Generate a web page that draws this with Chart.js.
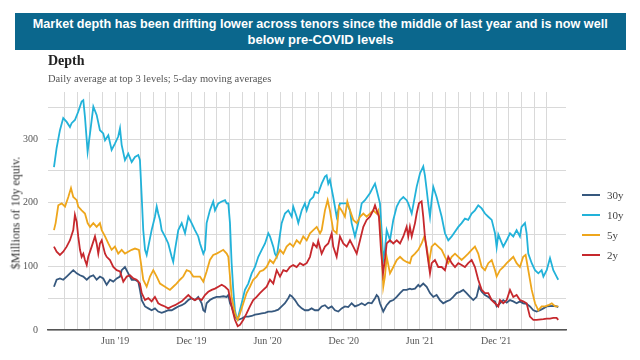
<!DOCTYPE html>
<html><head><meta charset="utf-8">
<script src="https://cdn.jsdelivr.net/npm/chart.js@4.4.0/dist/chart.umd.min.js"></script>
<style>
html,body{margin:0;padding:0;background:#fff;width:640px;height:360px;overflow:hidden}
#wrap{position:relative;width:640px;height:360px}
#banner{position:absolute;left:15px;top:13px;width:611px;height:37px;background:#0b678d;color:#fff;font:bold 13px "Liberation Sans",Arial,sans-serif;text-align:center}
#banner div{position:absolute;left:0;width:100%;white-space:nowrap;line-height:16px}
#t1{top:3px}#t2{top:19px}
#depth{position:absolute;left:48px;top:53px;font:bold 14px "Liberation Serif",serif;color:#222}
#sub{position:absolute;left:48px;top:73px;font:10.5px "Liberation Serif",serif;color:#555;white-space:nowrap}
#ytitle{position:absolute;left:16px;top:213px;transform:translate(-50%,-50%) rotate(-90deg);font:12px "Liberation Serif",serif;color:#333;white-space:nowrap}
#c{position:absolute;left:0;top:0}
.lg{position:absolute;left:582px;height:14px;line-height:14px;font:11px "Liberation Serif",serif;color:#444;white-space:nowrap}
.lg span{display:inline-block;width:18px;height:2px;vertical-align:middle;margin-right:7px;position:relative;top:-1px}
</style></head>
<body><div id="wrap">
<canvas id="c" width="640" height="360"></canvas>
<div id="banner"><div id="t1">Market depth has been drifting lower across tenors since the middle of last year and is now well</div><div id="t2">below pre-COVID levels</div></div>
<div id="depth">Depth</div>
<div id="sub">Daily average at top 3 levels; 5-day moving averages</div>
<div id="ytitle">$Millions of 10y equiv.</div>
<div id="legend"></div>
</div>
<script>
// x values: months since 1 Jan 2019 (fractional)
const seriesNames = ['30y','10y','5y','2y'];
const seriesColors = ['#36587e','#22b2d9','#eea61c','#c6282d'];
const tickMonths = [5,11,17,23,29,35];
const tickLabels = ["Jun '19","Dec '19","Jun '20","Dec '20","Jun '21","Dec '21"];

const months30 = [0.18,0.39,0.65,0.91,1.18,1.44,1.70,1.97,2.23,2.49,2.76,3.02,3.28,3.54,3.80,4.06,4.33,4.59,4.85,5.12,5.38,5.51,5.77,6.03,6.30,6.56,6.82,6.95,7.09,7.35,7.61,7.87,8.13,8.39,8.66,8.92,9.18,9.45,9.71,9.97,10.24,10.50,10.76,11.02,11.28,11.54,11.81,11.94,12.07,12.20,12.46,12.72,12.99,13.25,13.51,13.78,13.91,14.04,14.17,14.43,14.69,14.96,15.22,15.48,15.75,16.01,16.27,16.54,16.80,17.06,17.33,17.58,17.84,18.11,18.37,18.63,18.76,18.90,19.16,19.42,19.69,19.94,20.20,20.47,20.73,20.99,21.26,21.52,21.78,22.05,22.31,22.57,22.83,23.09,23.35,23.62,23.88,24.14,24.41,24.67,24.93,25.20,25.46,25.59,25.72,25.85,26.11,26.38,26.64,26.90,27.17,27.43,27.69,27.95,28.21,28.35,28.61,28.87,29.00,29.26,29.53,29.79,30.05,30.31,30.57,30.83,31.10,31.36,31.62,31.89,32.15,32.41,32.67,32.94,33.20,33.46,33.65,33.86,34.12,34.38,34.65,34.91,35.04,35.30,35.56,35.83,36.09,36.35,36.61,36.87,37.13,37.40,37.66,37.93,38.19,38.46,38.72,38.98,39.50,39.76,39.89];
const depth30y = [68,79,81,79,84,89,94,89,86,84,79,84,86,79,84,81,71,79,76,81,84,94,99,89,79,79,76,63,47,37,34,31,34,29,27,29,31,31,34,37,39,42,47,50,47,52,42,31,29,42,47,50,52,52,53,52,55,42,37,21,16,18,21,21,22,24,25,26,27,29,29,30,32,37,42,50,55,53,47,39,34,31,31,34,31,31,37,39,34,37,31,29,34,37,36,42,37,39,42,39,43,42,50,55,52,42,29,39,45,47,52,58,63,63,65,64,65,71,68,73,68,58,52,55,47,42,45,47,52,58,60,63,58,52,47,52,68,60,55,52,47,45,37,42,47,43,47,45,42,45,42,41,37,31,29,31,34,37,38,37,36];

const months10 = [0.18,0.39,0.65,0.91,1.18,1.44,1.57,1.83,2.09,2.36,2.49,2.62,2.83,3.02,3.28,3.54,3.80,4.06,4.20,4.46,4.72,4.98,5.24,5.38,5.51,5.77,6.03,6.30,6.56,6.82,6.95,7.09,7.21,7.35,7.48,7.61,7.87,8.13,8.27,8.39,8.53,8.66,8.92,9.18,9.45,9.57,9.71,9.97,10.24,10.50,10.76,11.02,11.28,11.54,11.68,11.94,12.07,12.20,12.46,12.72,12.86,13.12,13.39,13.65,13.78,13.91,14.04,14.17,14.30,14.43,14.57,14.69,14.96,15.22,15.48,15.75,16.01,16.27,16.54,16.80,17.06,17.19,17.45,17.58,17.72,17.84,18.11,18.37,18.63,18.90,19.02,19.29,19.42,19.69,19.94,20.08,20.34,20.60,20.73,20.99,21.26,21.52,21.65,21.78,21.91,22.17,22.44,22.70,22.96,23.23,23.49,23.62,23.88,24.14,24.41,24.67,25.06,25.32,25.46,25.59,25.85,25.98,26.11,26.24,26.38,26.64,26.90,27.17,27.43,27.69,27.95,28.08,28.35,28.74,29.00,29.26,29.39,29.53,29.65,29.79,29.92,30.05,30.31,30.44,30.71,30.97,31.23,31.50,32.02,32.28,32.54,32.80,33.07,33.33,33.59,33.86,34.12,34.38,34.65,34.91,35.04,35.17,35.56,35.83,36.09,36.35,36.61,36.87,37.00,37.27,37.40,37.53,37.80,38.06,38.32,38.58,38.72,38.98,39.24,39.50,39.76,39.89];
const depth10y = [256,286,314,333,327,319,325,330,343,359,361,335,280,309,351,338,314,309,298,306,283,293,304,317,291,267,277,264,272,275,267,209,157,126,118,131,157,178,194,183,173,157,147,136,115,107,126,157,168,152,178,168,157,147,136,120,126,168,188,202,188,199,202,204,199,199,168,105,63,31,18,21,42,63,73,89,99,115,126,136,152,147,131,120,115,131,168,183,188,178,194,178,168,188,199,188,204,209,217,215,230,241,243,230,236,209,178,199,199,199,188,168,147,168,199,204,215,225,230,220,199,157,110,126,157,141,173,194,204,209,204,199,183,225,246,257,243,220,199,178,204,225,209,199,178,152,141,147,162,168,175,173,183,188,196,191,183,178,173,152,130,150,131,141,152,147,157,147,162,168,152,120,105,94,89,94,84,94,113,94,84,79];

const months5 = [0.18,0.31,0.52,0.79,1.05,1.31,1.52,1.70,1.97,2.09,2.36,2.62,2.83,3.02,3.28,3.54,3.80,3.94,4.20,4.46,4.72,4.98,5.24,5.51,5.77,6.30,6.56,6.87,7.03,7.21,7.48,7.74,8.00,8.27,8.53,8.92,9.31,9.57,9.83,10.10,10.36,10.63,10.89,11.15,11.68,11.94,12.20,12.46,12.72,12.99,13.25,13.51,13.78,13.91,14.04,14.17,14.43,14.65,14.83,15.09,15.35,15.61,15.87,16.14,16.40,16.66,16.93,17.19,17.45,17.72,17.98,18.24,18.50,18.76,19.02,19.29,19.55,19.81,20.08,20.34,20.60,20.87,21.13,21.26,21.52,21.73,21.91,22.17,22.44,22.62,22.83,23.09,23.28,23.49,23.75,24.02,24.28,24.54,24.80,25.06,25.32,25.59,25.72,25.85,25.98,26.11,26.24,26.38,26.64,26.90,27.17,27.43,27.69,27.95,28.21,28.35,28.61,28.87,29.13,29.34,29.53,29.71,29.92,30.18,30.44,30.71,30.97,31.23,31.50,31.76,32.02,32.28,32.54,32.80,33.07,33.33,33.59,33.86,34.12,34.38,34.65,34.91,35.04,35.30,35.56,35.83,36.09,36.35,36.61,36.87,37.13,37.32,37.53,37.80,38.06,38.32,38.58,38.85,39.11,39.38,39.65,39.89];
const depth5y = [157,168,196,199,194,209,223,209,204,194,188,183,168,162,168,162,168,157,147,136,126,131,120,126,120,126,128,126,105,79,68,84,94,84,73,68,63,68,73,79,84,94,92,84,84,76,92,110,118,120,123,126,120,115,84,52,26,16,26,42,58,68,79,84,92,94,99,110,105,115,126,120,131,136,131,141,136,147,141,152,157,162,152,157,188,204,188,157,152,194,188,178,202,188,173,168,178,183,178,183,188,183,188,168,126,68,84,115,89,99,110,115,110,107,105,115,120,126,136,147,131,105,131,136,131,126,115,105,115,120,115,110,115,120,126,131,120,99,94,105,110,94,84,94,99,105,110,115,105,99,115,118,94,63,42,31,37,37,39,42,37,37];

const months2 = [0.18,0.39,0.65,0.91,1.18,1.44,1.70,1.83,1.97,2.09,2.23,2.36,2.49,2.62,2.76,2.88,3.15,3.41,3.54,3.67,3.80,3.94,4.06,4.20,4.33,4.59,4.85,5.12,5.38,5.64,5.91,6.17,6.43,6.69,6.95,7.09,7.35,7.61,7.87,8.13,8.39,8.66,8.92,9.18,9.45,9.71,9.97,10.24,10.50,10.76,11.02,11.28,11.54,11.81,12.07,12.33,12.60,12.86,13.12,13.39,13.65,13.91,14.17,14.43,14.65,14.83,15.09,15.35,15.61,15.87,16.14,16.40,16.66,16.93,17.19,17.45,17.72,17.98,18.24,18.50,18.76,19.02,19.29,19.55,19.81,20.08,20.34,20.47,20.60,20.87,20.99,21.26,21.52,21.78,22.05,22.17,22.44,22.70,22.96,23.23,23.49,23.75,24.02,24.28,24.54,24.80,25.06,25.32,25.46,25.59,25.77,25.93,26.09,26.24,26.38,26.64,26.90,27.17,27.43,27.69,27.95,28.08,28.21,28.35,28.61,28.74,28.92,29.13,29.26,29.39,29.53,29.79,29.92,30.18,30.44,30.71,30.97,31.23,31.50,31.76,32.02,32.28,32.54,32.80,33.07,33.33,33.59,33.86,34.12,34.38,34.65,34.91,35.17,35.30,35.56,35.83,36.09,36.35,36.61,36.87,37.13,37.40,37.66,37.93,38.19,38.72,38.98,39.24,39.50,39.76,39.89];
const depth2y = [131,123,118,123,131,141,157,181,170,147,126,115,120,110,102,115,131,147,136,120,136,141,131,120,115,110,99,94,92,76,84,86,81,79,73,58,47,50,45,52,42,39,37,34,37,39,42,45,50,55,50,47,50,47,55,60,63,65,68,71,68,63,37,16,6,8,16,26,37,47,52,58,63,68,79,73,94,84,94,92,99,102,99,105,102,105,115,126,136,130,140,120,131,136,152,131,115,147,136,131,141,131,120,141,162,173,178,188,196,188,178,126,89,110,136,141,136,141,136,147,162,147,162,147,168,183,199,202,178,147,126,89,105,110,99,99,94,115,105,99,105,102,99,105,110,99,79,63,58,58,47,42,37,47,42,47,63,52,55,47,45,42,21,16,16,17,18,18,19,19,16];

const monthsList = [months30, months10, months5, months2];
const depthList = [depth30y, depth10y, depth5y, depth2y];

// HTML legend
const lg = document.getElementById('legend');
seriesNames.forEach((n,i)=>{
  const d = document.createElement('div');
  d.className='lg'; d.style.top=(189+i*20)+'px';
  d.innerHTML='<span style="background:'+seriesColors[i]+'"></span>'+n;
  lg.appendChild(d);
});

// fit banner lines
function fit(id, w){
  const el=document.getElementById(id);
  const s=document.createElement('span'); s.textContent=el.textContent; s.style.whiteSpace='nowrap';
  el.textContent=''; el.appendChild(s);
  const cw=s.getBoundingClientRect().width;
  if(cw>0){ s.style.display='inline-block'; s.style.transform='scaleX('+(w/cw)+')'; }
}
fit('t1',575);

const tickFont = {family:'"Liberation Serif", serif', size:10};
new Chart(document.getElementById('c'), {
  type:'line',
  data:{datasets: seriesNames.map((n,i)=>({
    label:n,
    data: monthsList[i].map((x,k)=>({x:x, y:depthList[i][k]})),
    borderColor: seriesColors[i],
    backgroundColor: seriesColors[i],
    borderWidth:1.8,
    pointRadius:0,
    tension:0,
    fill:false,
    order: 4-i
  }))},
  options:{
    responsive:false, animation:false,
    layout:{padding:{left:0,right:74,top:92,bottom:0}},
    plugins:{legend:{display:false},tooltip:{enabled:false}},
    scales:{
      x:{type:'linear', min:-0.29, max:40.5,
        afterBuildTicks:(s)=>{ s.ticks = s.ticks.filter(t=>Math.abs(t.value-Math.round(t.value))<1e-6); },
        afterFit:(s)=>{ s.height=30; },
        ticks:{stepSize:1, autoSkip:false, maxRotation:0, minRotation:0, padding:5, color:'#555', font:tickFont,
          callback:(v)=>{ const k=tickMonths.indexOf(Math.round(v)); return k>=0 ? tickLabels[k] : ''; }},
        grid:{color:'#d9d9d9', lineWidth:1, drawTicks:false},
        border:{display:true, color:'#555', width:1.5}
      },
      y:{min:0, max:374,
        afterBuildTicks:(s)=>{ s.ticks = s.ticks.filter(t=>t.value%50===0); },
        afterFit:(s)=>{ s.width=48; },
        ticks:{stepSize:50, padding:10, color:'#555', font:tickFont,
          callback:(v)=> (v%100===0 ? String(v) : '')},
        grid:{color:'#d9d9d9', lineWidth:1, drawTicks:false},
        border:{display:false}
      }
    }
  }
});
</script>
</body></html>
